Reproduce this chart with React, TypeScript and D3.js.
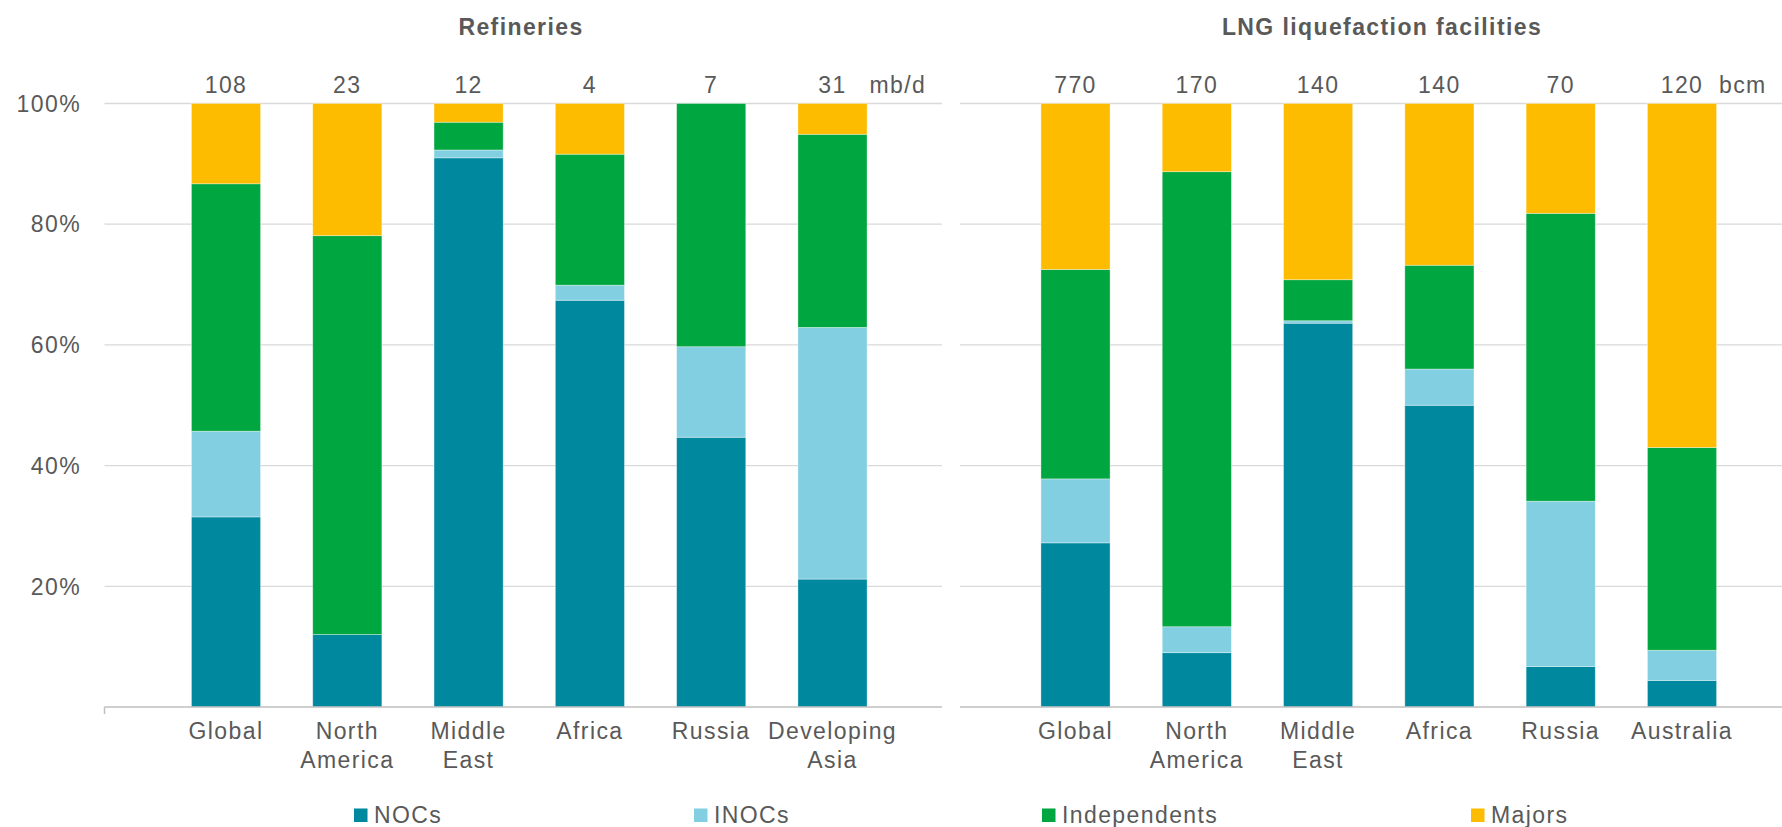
import React from "react";
import * as d3 from "d3";

const seriesNames = ["NOCs", "INOCs", "Independents", "Majors"];
const seriesColors = ["#00889E", "#83CFE2", "#00A63F", "#FDBC00"];

const refineryRegions = ["Global", "North\nAmerica", "Middle\nEast", "Africa", "Russia", "Developing\nAsia"];
const refineryTotals = ["108", "23", "12", "4", "7", "31"];
const refineryNOCs = [31.5, 12.0, 91.0, 67.4, 44.7, 21.2];
const refineryINOCs = [14.2, 0, 1.3, 2.5, 15.0, 41.7];
const refineryIndependents = [41.0, 66.1, 4.6, 21.7, 40.3, 32.0];
const refineryMajors = [13.3, 21.9, 3.1, 8.4, 0, 5.1];

const lngRegions = ["Global", "North\nAmerica", "Middle\nEast", "Africa", "Russia", "Australia"];
const lngTotals = ["770", "170", "140", "140", "70", "120"];
const lngNOCs = [27.2, 9.0, 63.6, 50.0, 6.7, 4.4];
const lngINOCs = [10.6, 4.3, 0.4, 6.0, 27.4, 5.0];
const lngIndependents = [34.7, 75.4, 6.8, 17.2, 47.7, 33.6];
const lngMajors = [27.5, 11.3, 29.2, 26.8, 18.2, 57.0];

const yTicks = [20, 40, 60, 80, 100];

const FONT = "'Liberation Sans', Arial, sans-serif";
const TEXT = "#595959";
const LS = 1.4;

const y = d3.scaleLinear().domain([0, 100]).range([707, 103.5]);

type PanelProps = {
  title: string;
  titleX: number;
  regions: string[];
  totals: string[];
  series: number[][];
  unit: string;
  bandRange: [number, number];
  gridRange: [number, number];
  showYAxis: boolean;
};

function Panel(p: PanelProps) {
  const x = d3.scaleBand<string>().domain(p.regions).range(p.bandRange).paddingInner(0.43).paddingOuter(0.215);
  const rows = p.regions.map((r, i) => {
    const o: any = { region: r };
    seriesNames.forEach((s, k) => (o[s] = p.series[k][i]));
    return o;
  });
  const stacked = d3.stack<any>().keys(seriesNames)(rows);
  const bw = x.bandwidth();
  const last = p.regions[p.regions.length - 1];
  return (
    <g>
      <text x={p.titleX} y={35} textAnchor="middle" fontWeight="bold" fontSize={23} fill={TEXT} letterSpacing={LS} fontFamily={FONT}>
        {p.title}
      </text>
      {yTicks.map((t) => (
        <line key={t} x1={p.gridRange[0]} x2={p.gridRange[1]} y1={y(t)} y2={y(t)} stroke="#D9D9D9" strokeWidth={1.3} />
      ))}
      {p.showYAxis &&
        yTicks.map((t) => (
          <text key={t} x={81} y={y(t)} dy="0.36em" textAnchor="end" fontSize={23} fill={TEXT} letterSpacing={LS} fontFamily={FONT}>
            {t + "%"}
          </text>
        ))}
      {stacked.map((layer, k) => (
        <g key={layer.key} fill={seriesColors[k]}>
          {layer.map((d, i) =>
            d[1] - d[0] > 0 ? (
              <rect
                key={i}
                x={x(d.data.region)}
                y={y(d[1])}
                width={bw}
                height={y(d[0]) - y(d[1])}
                stroke="#ffffff"
                strokeOpacity={0.45}
                strokeWidth={0.8}
              />
            ) : null
          )}
        </g>
      ))}
      <line x1={p.gridRange[0]} x2={p.gridRange[1]} y1={y(0)} y2={y(0)} stroke="#BFBFBF" strokeWidth={1.5} />
      {p.showYAxis && <line x1={p.gridRange[0]} x2={p.gridRange[0]} y1={y(0)} y2={y(0) + 7} stroke="#BFBFBF" strokeWidth={1.5} />}
      {p.regions.map((r, i) => {
        const cx = (x(r) as number) + bw / 2;
        return (
          <g key={r}>
            <text x={cx} y={92.5} textAnchor="middle" fontSize={23} fill={TEXT} letterSpacing={LS} fontFamily={FONT}>
              {p.totals[i]}
            </text>
            {r.split("\n").map((line, j) => (
              <text key={j} x={cx} y={738.5 + j * 29.5} textAnchor="middle" fontSize={23} fill={TEXT} letterSpacing={LS} fontFamily={FONT}>
                {line}
              </text>
            ))}
          </g>
        );
      })}
      <text x={(x(last) as number) + bw / 2 + 37} y={92.5} fontSize={23} fill={TEXT} letterSpacing={LS} fontFamily={FONT}>
        {p.unit}
      </text>
    </g>
  );
}

const legendX = [354, 694, 1042, 1471];

export default function App() {
  return (
    <div style={{ position: "absolute", left: 0, top: 0 }}>
      <svg width={1782} height={827} style={{ display: "block", background: "#ffffff" }}>
        <Panel
          title="Refineries"
          titleX={521}
          regions={refineryRegions}
          totals={refineryTotals}
          series={[refineryNOCs, refineryINOCs, refineryIndependents, refineryMajors]}
          unit="mb/d"
          bandRange={[165.35, 893.15]}
          gridRange={[104.5, 942]}
          showYAxis={true}
        />
        <Panel
          title="LNG liquefaction facilities"
          titleX={1382}
          regions={lngRegions}
          totals={lngTotals}
          series={[lngNOCs, lngINOCs, lngIndependents, lngMajors]}
          unit="bcm"
          bandRange={[1014.85, 1742.65]}
          gridRange={[960, 1782]}
          showYAxis={false}
        />
        {seriesNames.map((s, k) => (
          <g key={s}>
            <rect x={legendX[k]} y={808.5} width={13.5} height={13.5} fill={seriesColors[k]} />
            <text x={legendX[k] + 20} y={823} fontSize={23} fill={TEXT} letterSpacing={LS} fontFamily={FONT}>
              {s}
            </text>
          </g>
        ))}
      </svg>
    </div>
  );
}
